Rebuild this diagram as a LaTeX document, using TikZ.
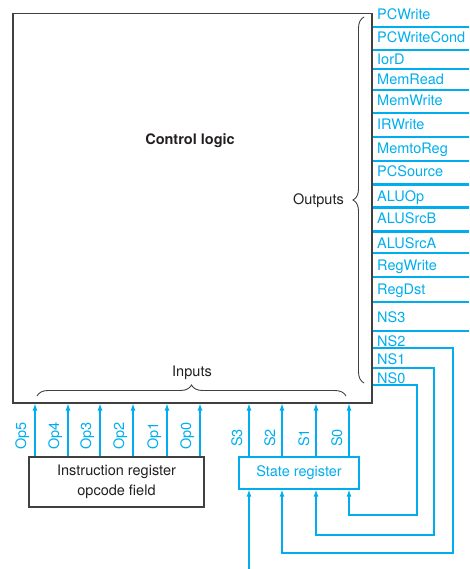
\documentclass[tikz,border=0pt]{standalone}
\usepackage{fontspec}
\setmainfont{TeX Gyre Heros}
\usepackage{tikz}
\usetikzlibrary{arrows.meta,decorations.pathreplacing}
\definecolor{sigblue}{RGB}{0,174,239}
\definecolor{boxgray}{RGB}{64,64,64}
\definecolor{ink}{RGB}{35,31,32}

\begin{document}
\begin{tikzpicture}[x=1pt, y=-1pt,
    every node/.style = {font=\fontsize{14.5}{18}\selectfont, inner sep=0pt},
    outname/.style = {anchor=west, text=sigblue, text height=10pt, text depth=0pt},
    bitname/.style = {rotate=90, text=sigblue, text height=10pt, text depth=0pt},
    wire/.style = {draw=sigblue, line width=1.2pt},
    bus/.style = {draw=sigblue, line width=3pt},
    feed/.style = {wire, -{Latex[length=7pt,width=5pt]}},
    brace/.style = {draw=boxgray, line width=0.9pt, decorate, decoration={brace, amplitude=11pt}}]
     	\useasboundingbox (0,0) rectangle (469,569);

        % control unit
     	\node[draw=boxgray, line width=1.5pt, minimum width=359pt, minimum height=389pt, anchor=north west] (ctrl) at (12,13) {};
        \node[font=\fontsize{14.5}{18}\selectfont\bfseries, text=ink] (title) at (190,141) {Control logic};
        \coordinate (rim) at (469,0);

        % outputs
     	\node[outname] (pcwrite) at (377,15) {PCWrite};
        \node[outname] (pcwritecond) at (377,38) {PCWriteCond};
        \node[outname] (iord) at (377,60) {IorD};
        \node[outname] (memread) at (377,80) {MemRead};
        \node[outname] (memwrite) at (377,101) {MemWrite};
        \node[outname] (irwrite) at (377,125) {IRWrite};
        \node[outname] (memtoreg) at (377,149) {MemtoReg};
        \node[outname] (pcsource) at (377,172) {PCSource};
        \node[outname] (aluop) at (377,196) {ALUOp};
        \node[outname] (alusrcb) at (377,218) {ALUSrcB};
        \node[outname] (alusrca) at (377,243) {ALUSrcA};
        \node[outname] (regwrite) at (377,265) {RegWrite};
        \node[outname] (regdst) at (377,289) {RegDst};
        \node[outname] (ns3) at (377,317) {NS3};
        \node[outname] (ns2) at (377,341) {NS2};
        \node[outname] (ns1) at (377,359) {NS1};
        \node[outname] (ns0) at (377,378) {NS0};

        \draw[wire] (ctrl.east |- 0,27) -- (rim |- 0,27);
        \draw[wire] (ctrl.east |- 0,50) -- (rim |- 0,50);
        \draw[wire] (ctrl.east |- 0,69) -- (rim |- 0,69);
        \draw[wire] (ctrl.east |- 0,90) -- (rim |- 0,90);
        \draw[wire] (ctrl.east |- 0,113) -- (rim |- 0,113);
        \draw[wire] (ctrl.east |- 0,137) -- (rim |- 0,137);
        \draw[wire] (ctrl.east |- 0,161) -- (rim |- 0,161);
        \draw[bus] (ctrl.east |- 0,185) -- (rim |- 0,185);
        \draw[bus] (ctrl.east |- 0,207) -- (rim |- 0,207);
        \draw[bus] (ctrl.east |- 0,231) -- (rim |- 0,231);
        \draw[wire] (ctrl.east |- 0,253) -- (rim |- 0,253);
        \draw[wire] (ctrl.east |- 0,277) -- (rim |- 0,277);
        \draw[wire] (ctrl.east |- 0,302) -- (rim |- 0,302);
        \draw[wire] (ctrl.east |- 0,331) -- (rim |- 0,331);

        % braces
        \coordinate (outtop) at (364,17);
        \coordinate (outbot) at (364,383);
        \draw[brace] (outbot) -- (outtop);
        \node[anchor=east, text=ink] (outputs) at (344,201) {Outputs};
        \coordinate (inleft) at (37,396);
        \coordinate (inright) at (346,396);
        \draw[brace] (inleft) -- (inright);
        \node[text=ink] (inputs) at (192,373) {Inputs};

        % registers
        \node[draw=boxgray, line width=1.2pt, minimum width=175pt, minimum height=50pt, align=center, text=ink, font=\fontsize{14.5}{20}\selectfont] (ir) at (116.5,482) {Instruction register\\opcode field};
        \node[draw=sigblue, line width=1.2pt, minimum width=120pt, minimum height=32pt, text=sigblue] (sr) at (299,473) {State register};

        % opcode bits
        \draw[feed] (ir.north -| 35,0) -- (ctrl.south -| 35,0);
        \draw[feed] (ir.north -| 68,0) -- (ctrl.south -| 68,0);
        \draw[feed] (ir.north -| 100,0) -- (ctrl.south -| 100,0);
        \draw[feed] (ir.north -| 133,0) -- (ctrl.south -| 133,0);
        \draw[feed] (ir.north -| 167,0) -- (ctrl.south -| 167,0);
        \draw[feed] (ir.north -| 200,0) -- (ctrl.south -| 200,0);
        \node[bitname] (op5) at (21,436) {Op5};
        \node[bitname] (op4) at (54,436) {Op4};
        \node[bitname] (op3) at (86,436) {Op3};
        \node[bitname] (op2) at (119,436) {Op2};
        \node[bitname] (op1) at (153,436) {Op1};
        \node[bitname] (op0) at (186,436) {Op0};

        % state bits
        \draw[feed] (sr.north -| 249,0) -- (ctrl.south -| 249,0);
        \draw[feed] (sr.north -| 282,0) -- (ctrl.south -| 282,0);
        \draw[feed] (sr.north -| 316,0) -- (ctrl.south -| 316,0);
        \draw[feed] (sr.north -| 349,0) -- (ctrl.south -| 349,0);
        \node[bitname] (s3) at (237,438) {S3};
        \node[bitname] (s2) at (270,438) {S2};
        \node[bitname] (s1) at (304,438) {S1};
        \node[bitname] (s0) at (337,438) {S0};

        % next state
        \coordinate (turn2) at (453,553);
        \coordinate (turn1) at (434,535);
        \coordinate (turn0) at (417,515);
        \coordinate (clk) at (249,569);
        \draw[feed] (ctrl.east |- 0,348) -| (turn2) -| (sr.south -| 282,0);
        \draw[feed] (ctrl.east |- 0,368) -| (turn1) -| (sr.south -| 316,0);
        \draw[feed] (ctrl.east |- 0,385) -| (turn0) -| (sr.south -| 349,0);
        \draw[feed] (clk) -- (sr.south -| clk);
     \end{tikzpicture}
\end{document}
